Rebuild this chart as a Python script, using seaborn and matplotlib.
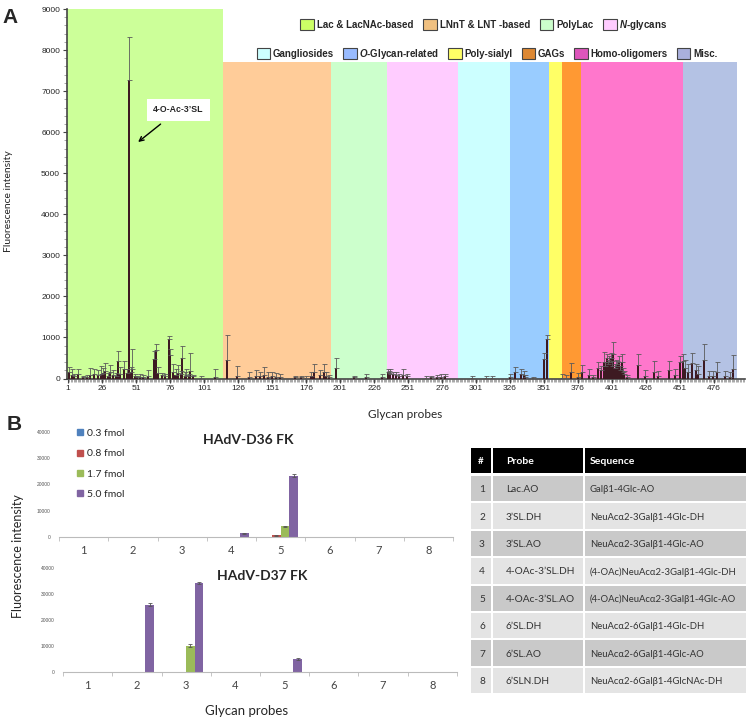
import numpy as np
import pandas as pd
import seaborn as sns
import matplotlib.pyplot as plt
from matplotlib.patches import Patch, Rectangle
from matplotlib.lines import Line2D
from matplotlib.ticker import MultipleLocator

# ---------------- Panel A: glycan array screen ----------------
n_probes = 492

# probes with a visible signal (all others are ~0)
a_probes = [2, 4, 5, 8, 12, 15, 17, 20, 23, 25, 27, 28, 30, 32, 34, 36, 38, 39, 42, 44,
            46, 47, 48, 50, 52, 54, 56, 60, 64, 66, 67, 70, 72, 75, 76, 78, 80, 82, 84, 85,
            87, 88, 90, 91, 93, 99, 109,
            118, 125, 134, 139, 142, 145, 148, 151, 154, 157, 168, 172, 176, 180, 182, 186, 189, 191, 193,
            198, 211, 220, 232,
            236, 237, 238, 240, 242, 244, 247, 250, 264, 268, 272, 275, 278,
            298, 308, 313,
            326, 330, 334, 336, 337, 343, 351, 353,
            364, 367, 371, 376,
            379, 384, 387, 391, 393, 395, 396, 397, 398, 399, 400, 401, 402, 403, 404, 405, 406, 407,
            408, 409, 410, 412, 420, 425, 432, 435, 443, 447,
            451, 453, 455, 457, 460, 463, 464, 469, 472, 475, 478, 484, 488, 490]
a_values = [160, 90, 50, 110, 40, 40, 90, 100, 80, 120, 130, 180, 70, 150, 90, 60, 420, 120, 230, 130,
            7270, 150, 230, 60, 30, 40, 40, 60, 480, 690, 130, 80, 60, 960, 580, 150, 80, 140, 100, 500,
            60, 90, 60, 180, 50, 20, 30,
            450, 60, 40, 70, 60, 90, 40, 60, 30, 40, 30, 30, 20, 70, 150, 80, 160, 50, 30,
            250, 30, 40, 40,
            160, 130, 120, 100, 90, 60, 80, 50, 20, 30, 40, 40, 50,
            20, 20, 20,
            30, 150, 100, 80, 40, 10, 480, 950,
            20, 20, 150, 30,
            150, 80, 30, 250, 200, 400, 300, 490, 350, 400, 500, 300, 600, 250, 300, 350, 400, 200,
            400, 150, 100, 30, 320, 60, 150, 60, 200, 80,
            400, 420, 250, 150, 380, 200, 100, 450, 60, 60, 150, 50, 40, 240]
a_errors = [115, 150, 60, 120, 30, 40, 170, 140, 120, 180, 120, 200, 60, 190, 110, 80, 240, 170, 200, 90,
            1060, 120, 500, 40, 30, 60, 40, 140, 200, 160, 150, 60, 50, 70, 130, 210, 150, 200, 80, 300,
            110, 150, 60, 450, 40, 50, 190,
            620, 240, 120, 140, 100, 200, 130, 110, 100, 80, 40, 40, 40, 100, 200, 120, 200, 100, 60,
            250, 40, 60, 60,
            80, 60, 100, 60, 60, 40, 140, 60, 40, 40, 50, 60, 60,
            30, 30, 30,
            80, 120, 120, 100, 50, 20, 150, 100,
            100, 60, 230, 100,
            170, 140, 60, 150, 100, 250, 100, 100, 100, 150, 120, 120, 290, 100, 150, 80, 150, 100,
            200, 100, 80, 60, 280, 150, 280, 120, 230, 140,
            160, 180, 200, 200, 240, 150, 200, 400, 120, 120, 250, 130, 130, 340]

band_labels = ['Lac & LacNAc-based', 'LNnT & LNT -based', 'PolyLac', r'$\it{N}$-glycans',
               'Gangliosides', r'$\it{O}$-Glycan-related', 'Poly-sialyl', 'GAGs',
               'Homo-oligomers', 'Misc.']
band_edges = [0.2, 115, 194, 235.5, 288, 326, 355, 364, 378, 453, 493]
band_tops = [9000, 7700, 7700, 7700, 7700, 7700, 7700, 7700, 7700, 7700]
band_colors = ['#ccff99', '#ffcc99', '#ccffcc', '#ffccff', '#ccffff',
               '#99ccff', '#ffff66', '#ff9933', '#ff77cc', '#b4c2e4']
legend_colors = ['#ccff66', '#f0c080', '#ccffcc', '#ffccff', '#ccffff',
                 '#99bbff', '#ffff66', '#dd8833', '#dd55bb', '#aab0dd']

# ---------------- Panel B: dose titration ----------------
b_probes = ['1', '2', '3', '4', '5', '6', '7', '8']
amounts = ['0.3 fmol', '0.8 fmol', '1.7 fmol', '5.0 fmol']
amount_colors = ['#4f81bd', '#c0504d', '#9bbb59', '#8064a2']

d36_03 = [0, 0, 0, 0, 0, 0, 0, 0]
d36_08 = [0, 0, 0, 0, 700, 0, 0, 0]
d36_17 = [0, 0, 0, 0, 4100, 0, 0, 0]
d36_50 = [0, 0, 0, 1400, 23400, 0, 0, 0]
d36_err_08 = [0, 0, 0, 0, 150, 0, 0, 0]
d36_err_17 = [0, 0, 0, 0, 200, 0, 0, 0]
d36_err_50 = [0, 0, 0, 250, 500, 0, 0, 0]

d37_03 = [0, 0, 0, 0, 0, 0, 0, 0]
d37_08 = [0, 0, 0, 0, 0, 0, 0, 0]
d37_17 = [0, 0, 10100, 0, 0, 0, 0, 0]
d37_50 = [0, 25900, 34100, 0, 5000, 0, 0, 0]
d37_err_17 = [0, 0, 600, 0, 0, 0, 0, 0]
d37_err_50 = [0, 500, 400, 0, 300, 0, 0, 0]

table_ids = ['1', '2', '3', '4', '5', '6', '7', '8']
table_probes = ['Lac.AO', '3’SL.DH', '3’SL.AO', '4-OAc-3’SL.DH', '4-OAc-3’SL.AO',
                '6’SL.DH', '6’SL.AO', '6’SLN.DH']
table_sequences = ['Galβ1-4Glc-AO', 'NeuAcα2-3Galβ1-4Glc-DH', 'NeuAcα2-3Galβ1-4Glc-AO',
                   '(4-OAc)NeuAcα2-3Galβ1-4Glc-DH', '(4-OAc)NeuAcα2-3Galβ1-4Glc-AO',
                   'NeuAcα2-6Galβ1-4Glc-DH', 'NeuAcα2-6Galβ1-4Glc-AO', 'NeuAcα2-6Galβ1-4GlcNAc-DH']

sns.set_style('white')
plt.rcParams['font.family'] = ['Liberation Sans', 'DejaVu Sans']
plt.rcParams['mathtext.fontset'] = 'custom'
plt.rcParams['mathtext.it'] = 'Liberation Sans:italic:bold'
plt.rcParams['mathtext.rm'] = 'Liberation Sans:bold'
CAL = ['Lato', 'DejaVu Sans']

W, H = 750, 718
fig = plt.figure(figsize=(W / 100, H / 100), dpi=100)


def fax(x0, y0, x1, y1, **kw):
    # axes from pixel box (top-left origin)
    return fig.add_axes([x0 / W, 1 - y1 / H, (x1 - x0) / W, (y1 - y0) / H], **kw)


# overlay in pixel units for labels and the table
ov = fax(0, 0, W, H)
ov.set_xlim(0, W)
ov.set_ylim(H, 0)
ov.axis('off')

# ---------- panel A ----------
ax = fax(67, 9, 745, 378.5)
for i in range(len(band_colors)):
    ax.fill_between([band_edges[i], band_edges[i + 1]], 0, band_tops[i],
                    color=band_colors[i], lw=0, zorder=0)

full = np.zeros(n_probes)
full[np.array(a_probes) - 1] = a_values
df_a = pd.DataFrame({'probe': np.arange(1, n_probes + 1), 'value': full})
sns.barplot(data=df_a, x='probe', y='value', native_scale=True, color='#3d1a22',
            saturation=1, width=1.5, linewidth=0, errorbar=None, ax=ax, zorder=3)
ax.errorbar(a_probes, a_values, yerr=[np.zeros(len(a_errors)), a_errors], fmt='none',
            ecolor='#5a5a5a', elinewidth=0.6, capsize=1.8, capthick=0.6, zorder=4)

ax.set_xlim(0.2, 498.8)
ax.set_ylim(0, 9000)
ax.set_xticks(np.arange(1, 477, 25))
ax.set_yticks(np.arange(0, 9001, 1000))
ax.xaxis.set_minor_locator(MultipleLocator(1))
ax.yaxis.set_minor_locator(MultipleLocator(200))
ax.tick_params(axis='both', which='major', labelsize=6, length=3, width=0.8, color='#444444',
               direction='out', pad=2)
ax.tick_params(axis='both', which='minor', length=2, width=0.4, color='#666666', direction='out')
ax.tick_params(axis='both', which='both', bottom=True, left=True)
ax.set_xlabel('')
ax.set_ylabel('')
for s in ['top', 'right']:
    ax.spines[s].set_visible(False)
for s in ['left', 'bottom']:
    ax.spines[s].set_color('#444444')
    ax.spines[s].set_linewidth(1.2)
ax.patch.set_alpha(0)

ax.annotate('4-O-Ac-3’SL', xy=(52.5, 5760), xytext=(82, 6540), ha='center', va='center',
            fontsize=6.3, fontweight='bold',
            bbox=dict(boxstyle='square,pad=0.7', fc='white', ec='none'),
            arrowprops=dict(arrowstyle='->,head_length=0.5,head_width=0.25', color='black',
                            lw=1.0, shrinkA=4, shrinkB=0), zorder=6)

handles = [Patch(facecolor=c, edgecolor='#444444', linewidth=0.8) for c in legend_colors]
leg1 = fig.legend(handles[:4], band_labels[:4], loc='center', bbox_to_anchor=(484 / W, 1 - 24.5 / H),
                  ncol=4, frameon=False, prop=dict(weight='bold', size=7),
                  handlelength=1.4, handleheight=1.4, handletextpad=0.3, columnspacing=1.0,
                  borderpad=0, borderaxespad=0)
leg2 = fig.legend(handles[4:], band_labels[4:], loc='center', bbox_to_anchor=(487 / W, 1 - 54 / H),
                  ncol=6, frameon=False, prop=dict(weight='bold', size=7),
                  handlelength=1.4, handleheight=1.4, handletextpad=0.3, columnspacing=0.9,
                  borderpad=0, borderaxespad=0)

ov.text(10, 17.5, 'A', fontsize=15, fontweight='bold', ha='center', va='center')
ov.text(9, 201, 'Fluorescence intensity', rotation=90, fontsize=7.5, family=CAL,
        ha='center', va='center')
ov.text(405, 415, 'Glycan probes', fontsize=8.5, family=CAL, ha='center', va='center')

# ---------- panel B ----------
ov.text(14, 425, 'B', fontsize=15, fontweight='bold', ha='center', va='center')


def titration(axb, vals, errs, title, tx):
    rows = []
    for amt, v in zip(amounts, vals):
        for p, y in zip(b_probes, v):
            rows.append({'probe': p, 'amount': amt, 'value': y})
    df = pd.DataFrame(rows)
    sns.barplot(data=df, x='probe', y='value', hue='amount', hue_order=amounts,
                palette=dict(zip(amounts, amount_colors)), saturation=1, width=0.7,
                errorbar=None, legend=False, linewidth=0, ax=axb)
    for cont, err in zip(axb.containers, errs):
        for bar, e in zip(cont, err):
            if e > 0:
                axb.errorbar(bar.get_x() + bar.get_width() / 2, bar.get_height(), yerr=e,
                             fmt='none', ecolor='#555555', elinewidth=0.6, capsize=1.5,
                             capthick=0.6, zorder=5)
    axb.set_xlim(-0.5, 7.5)
    axb.set_ylim(0, 40000)
    axb.set_yticks(np.arange(0, 40001, 10000))
    axb.set_xticks(range(8))
    axb.set_xticks(np.arange(-0.5, 8, 1), minor=True)
    axb.tick_params(axis='y', labelsize=3.5, labelcolor='#555555', length=0, pad=6)
    axb.tick_params(axis='x', which='major', labelsize=8, labelcolor='#444444', length=0, pad=6)
    axb.tick_params(axis='x', which='minor', length=3, width=0.6, color='#bbbbbb',
                    bottom=True, direction='out')
    for lab in axb.get_xticklabels():
        lab.set_family(CAL)
    for s in ['top', 'right', 'left']:
        axb.spines[s].set_visible(False)
    axb.spines['bottom'].set_color('#bbbbbb')
    axb.spines['bottom'].set_linewidth(0.8)
    axb.set_xlabel('')
    axb.set_ylabel('')
    axb.patch.set_alpha(0)
    axb.text(tx, 0.92, title, transform=axb.transAxes, ha='center', va='center',
             fontsize=10, fontweight='bold', family=CAL)


ax1 = fax(59, 432, 453, 537)
titration(ax1, [d36_03, d36_08, d36_17, d36_50],
          [d36_03, d36_err_08, d36_err_17, d36_err_50], 'HAdV-D36 FK', 0.48)
ax2 = fax(63, 568, 457, 672)
titration(ax2, [d37_03, d37_08, d37_17, d37_50],
          [d37_03, d37_08, d37_err_17, d37_err_50], 'HAdV-D37 FK', 0.505)

leg_handles = [Line2D([], [], ls='none', marker='s', markersize=4.5, color=c) for c in amount_colors]
ax1.legend(leg_handles, amounts, loc='upper left', bbox_to_anchor=(0.03, 1.08), frameon=False,
           prop=dict(family=CAL, size=7.5), handlelength=0.8, handletextpad=0.3,
           labelspacing=1.05, borderpad=0)

ov.text(18, 556, 'Fluorescence intensity', rotation=90, fontsize=9, family=CAL,
        ha='center', va='center')
ov.text(247, 711, 'Glycan probes', fontsize=9.5, family=CAL, ha='center', va='center')

# ---------- table ----------
col_edges = [471, 493, 585, 748]
gap = 2
head_top, head_bot = 448, 473
row0, row_step, row_h = 476, 27.4, 25.4
for c in range(3):
    ov.add_patch(Rectangle((col_edges[c], head_top), col_edges[c + 1] - col_edges[c] - gap,
                           head_bot - head_top, fc='black', ec='none'))
head_txt = ['#', 'Probe', 'Sequence']
ov.text(481, 461, head_txt[0], color='white', fontsize=7, fontweight='bold', family=CAL,
        ha='center', va='center')
ov.text(506, 461, head_txt[1], color='white', fontsize=7.5, fontweight='bold', family=CAL,
        ha='left', va='center')
ov.text(590, 461, head_txt[2], color='white', fontsize=7.5, fontweight='bold', family=CAL,
        ha='left', va='center')
for i in range(len(table_ids)):
    top = row0 + i * row_step
    fc = '#c9c9c9' if i % 2 == 0 else '#e4e4e4'
    for c in range(3):
        ov.add_patch(Rectangle((col_edges[c], top), col_edges[c + 1] - col_edges[c] - gap,
                               row_h, fc=fc, ec='none'))
    yc = top + row_h / 2 + 1
    ov.text(482, yc, table_ids[i], fontsize=7.3, family=CAL, color='#333333', ha='center', va='center')
    ov.text(506, yc, table_probes[i], fontsize=7.3, family=CAL, color='#333333', ha='left', va='center')
    ov.text(590, yc, table_sequences[i], fontsize=6.8, family=CAL, color='#333333',
            ha='left', va='center')

fig.savefig('out.png', dpi=100)
